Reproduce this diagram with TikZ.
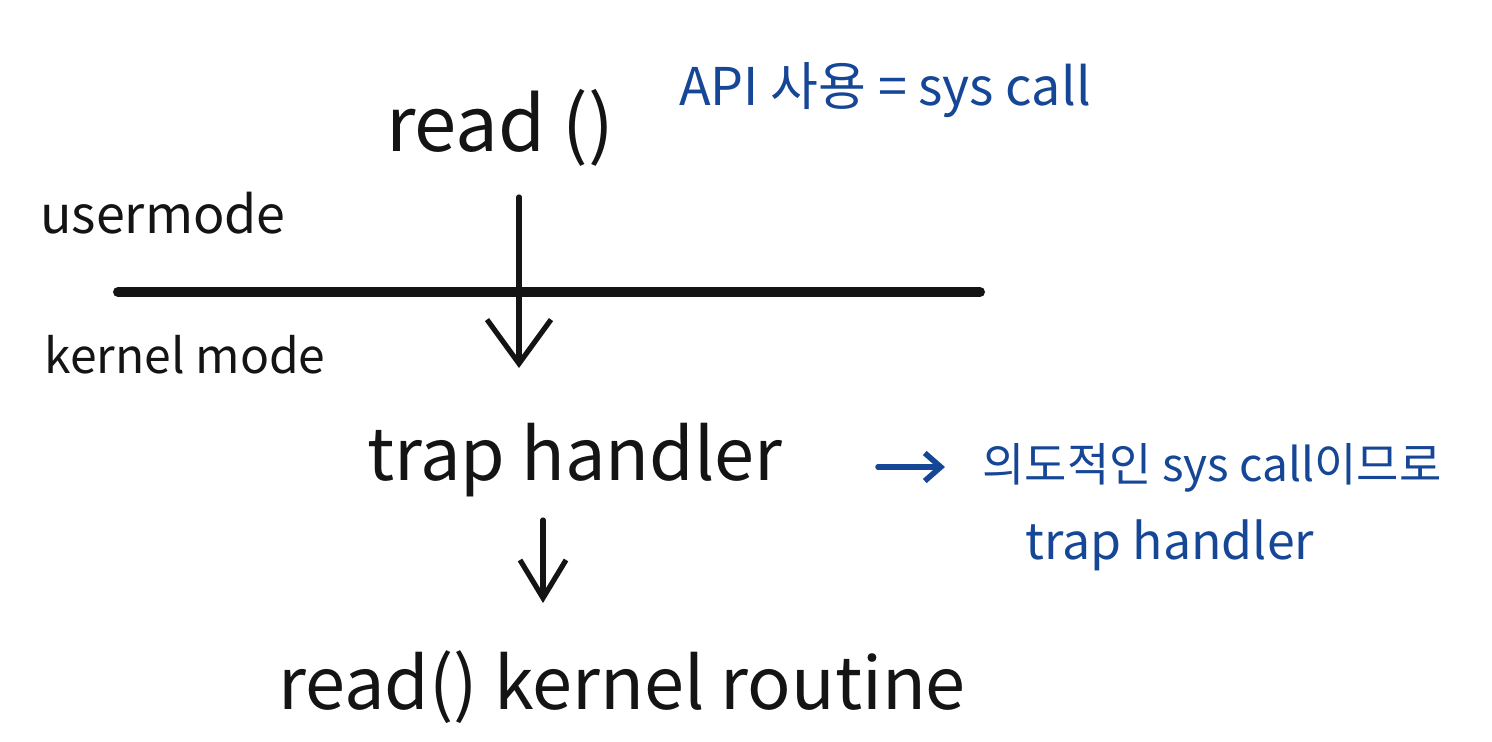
\documentclass[tikz,border=0pt]{standalone}
\usepackage{fontspec}
\setmainfont{Noto Sans CJK KR}
\usetikzlibrary{arrows.meta}
\definecolor{pen}{RGB}{20,20,20}
\definecolor{ink}{RGB}{22,70,150}
\tikzset{
  lbl/.style={inner sep=0pt, text=pen},
  blbl/.style={inner sep=0pt, text=ink},
  flow/.style={draw=pen, line width=2.6pt, line cap=round, -{Straight Barb[length=22pt,width=32pt,line width=2.6pt]}},
  flowsmall/.style={draw=pen, line width=2.6pt, line cap=round, -{Straight Barb[length=19pt,width=23pt,line width=2.6pt]}},
  note/.style={draw=ink, line width=2.8pt, line cap=round, -{Straight Barb[length=8pt,width=14pt,line width=2.8pt]}},
  divider/.style={draw=pen, line width=5pt, line cap=round}
}
\begin{document}
\begin{tikzpicture}[x=0.5pt,y=-0.5pt]
\useasboundingbox (0,0) rectangle (1492,741);
\node[lbl, font=\fontsize{38}{40}\selectfont] (read) at (500,128) {read ()};
\node[blbl, font=\fontsize{26}{30}\selectfont] (api) at (885,90) {API 사용 = sys call};
\node[lbl, font=\fontsize{26}{30}\selectfont] (user) at (163,213) {usermode};
\node[lbl, font=\fontsize{24}{28}\selectfont] (kern) at (185,355) {kernel mode};
\node[lbl, font=\fontsize{36}{40}\selectfont] (trap) at (575,460) {trap handler};
\node[blbl, font=\fontsize{23}{26}\selectfont] (why) at (1212,468) {의도적인 sys call이므로};
\node[blbl, font=\fontsize{25}{28}\selectfont] (why2) at (1170,545) {trap handler};
\node[lbl, font=\fontsize{36}{40}\selectfont] (routine) at (622,687) {read() kernel routine};
\coordinate (lineL) at (118,292);
\coordinate (lineR) at (980,292);
\coordinate (a1s) at (519,197);
\coordinate (a1e) at (519,368);
\coordinate (a2s) at (543,520);
\coordinate (a2e) at (543,603);
\coordinate (bs) at (878,467);
\coordinate (be) at (945,467);
\draw[divider] (lineL) -- (lineR);
\draw[flow] (a1s) -- (a1e);
\draw[flowsmall] (a2s) -- (a2e);
\draw[note] (bs) -- (be);
\end{tikzpicture}
\end{document}
